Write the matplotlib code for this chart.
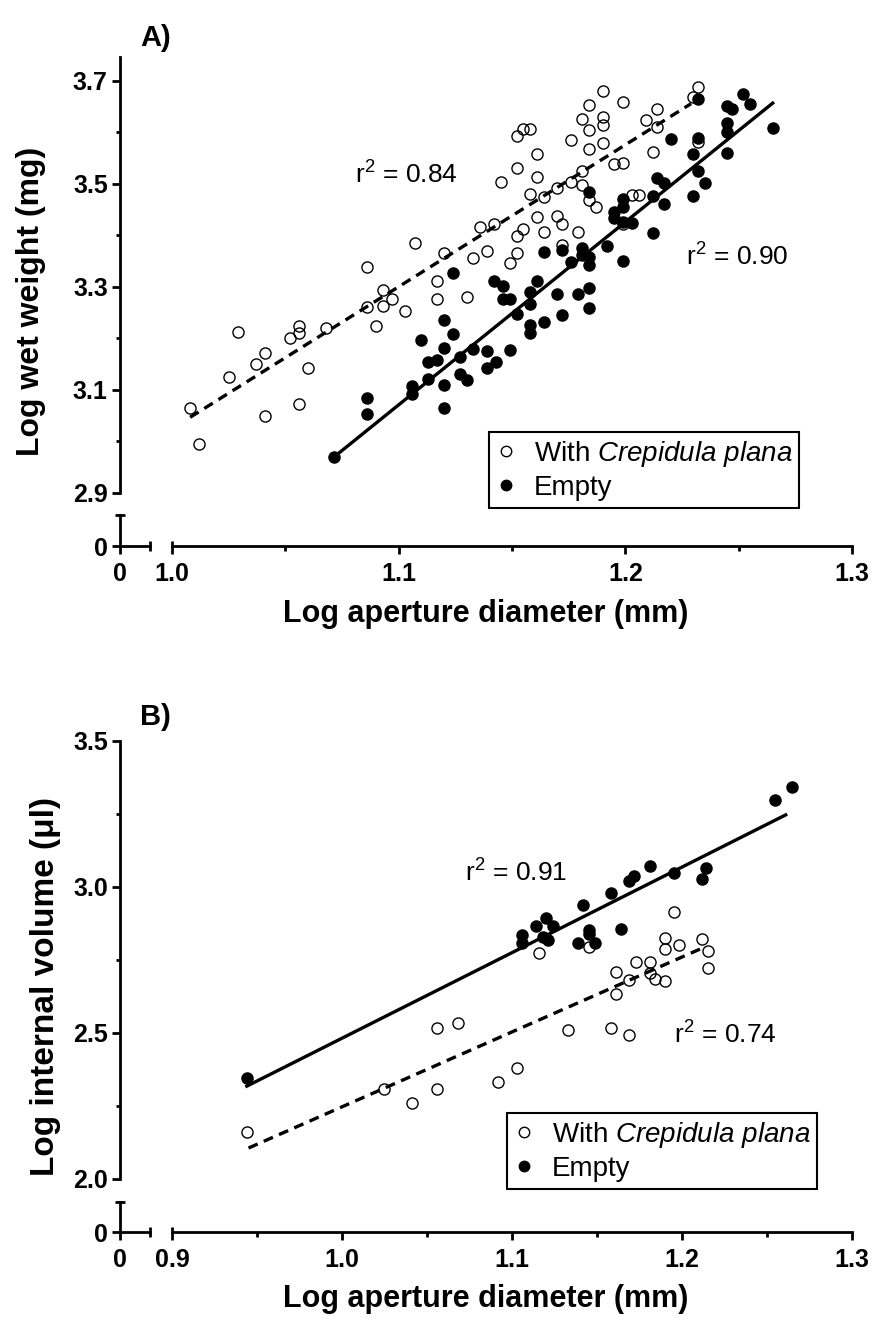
import numpy as np
import matplotlib
matplotlib.use('Agg')
import matplotlib.pyplot as plt
from matplotlib.lines import Line2D
from matplotlib.ticker import FixedLocator

plt.rcParams['font.family'] = ['Liberation Sans', 'DejaVu Sans']
plt.rcParams['mathtext.fontset'] = 'custom'
plt.rcParams['mathtext.rm'] = 'Liberation Sans'
plt.rcParams['mathtext.it'] = 'Liberation Sans:italic'
plt.rcParams['mathtext.bf'] = 'Liberation Sans:bold'

# ── Panel A data: log aperture diameter vs log wet weight ─────────────────────
a_open_x = [1.008, 1.012, 1.025, 1.029, 1.037, 1.041, 1.041, 1.052, 1.056, 1.056,
            1.060, 1.056, 1.068, 1.086, 1.090, 1.093, 1.093, 1.097, 1.086, 1.103,
            1.107, 1.117, 1.117, 1.120, 1.130, 1.133, 1.139, 1.136, 1.142, 1.145,
            1.149, 1.152, 1.152, 1.155, 1.164, 1.161, 1.170, 1.172, 1.179, 1.172,
            1.158, 1.164, 1.170, 1.176, 1.181, 1.181, 1.184, 1.187, 1.152, 1.161,
            1.152, 1.155, 1.158, 1.161, 1.176, 1.184, 1.190, 1.181, 1.190, 1.190,
            1.184, 1.184, 1.190, 1.199, 1.195, 1.199, 1.209, 1.214, 1.214, 1.212,
            1.203, 1.206, 1.199, 1.230, 1.232, 1.232]
a_open_y = [3.065, 2.995, 3.125, 3.213, 3.150, 3.172, 3.050, 3.201, 3.224, 3.211,
            3.143, 3.073, 3.220, 3.261, 3.224, 3.263, 3.294, 3.277, 3.339, 3.253,
            3.385, 3.312, 3.277, 3.366, 3.281, 3.356, 3.370, 3.417, 3.422, 3.504,
            3.347, 3.366, 3.399, 3.413, 3.407, 3.436, 3.438, 3.422, 3.407, 3.382,
            3.481, 3.475, 3.492, 3.504, 3.525, 3.498, 3.469, 3.455, 3.531, 3.514,
            3.593, 3.607, 3.607, 3.558, 3.585, 3.568, 3.580, 3.626, 3.630, 3.615,
            3.605, 3.653, 3.681, 3.659, 3.539, 3.541, 3.624, 3.646, 3.611, 3.562,
            3.479, 3.479, 3.422, 3.669, 3.688, 3.582]

a_fill_x = [1.0715, 1.086, 1.086, 1.106, 1.106, 1.110, 1.113, 1.117, 1.120, 1.120,
            1.120, 1.120, 1.124, 1.113, 1.127, 1.127, 1.130, 1.133, 1.139, 1.139,
            1.143, 1.149, 1.152, 1.158, 1.158, 1.158, 1.164, 1.172, 1.184, 1.124,
            1.142, 1.146, 1.146, 1.149, 1.161, 1.158, 1.170, 1.179, 1.184, 1.164,
            1.172, 1.176, 1.181, 1.181, 1.184, 1.184, 1.192, 1.199, 1.184, 1.199,
            1.199, 1.195, 1.195, 1.199, 1.203, 1.212, 1.212, 1.217, 1.230, 1.214,
            1.217, 1.220, 1.230, 1.232, 1.235, 1.232, 1.232, 1.245, 1.247, 1.252,
            1.255, 1.245, 1.245, 1.245, 1.265]
a_fill_y = [2.970, 3.084, 3.053, 3.108, 3.092, 3.197, 3.154, 3.158, 3.236, 3.182,
            3.110, 3.065, 3.209, 3.121, 3.164, 3.131, 3.119, 3.180, 3.176, 3.143,
            3.154, 3.178, 3.248, 3.267, 3.226, 3.211, 3.232, 3.246, 3.259, 3.327,
            3.312, 3.302, 3.277, 3.277, 3.312, 3.290, 3.286, 3.286, 3.298, 3.368,
            3.372, 3.349, 3.376, 3.362, 3.358, 3.343, 3.380, 3.350, 3.484, 3.471,
            3.455, 3.446, 3.434, 3.426, 3.424, 3.405, 3.477, 3.461, 3.477, 3.512,
            3.502, 3.587, 3.558, 3.525, 3.502, 3.589, 3.665, 3.651, 3.646, 3.675,
            3.655, 3.618, 3.601, 3.560, 3.609]

# regression lines as drawn (end points)
a_fit_open_x = [1.008, 1.229]
a_fit_open_y = [3.047, 3.656]
a_fit_fill_x = [1.0715, 1.265]
a_fit_fill_y = [2.970, 3.657]
a_r2 = ['0.84', '0.90']

# ── Panel B data: log aperture diameter vs log internal volume ────────────────
b_open_x = [0.944, 1.025, 1.041, 1.056, 1.056, 1.068, 1.092, 1.103, 1.133, 1.158,
            1.169, 1.116, 1.145, 1.161, 1.161, 1.169, 1.173, 1.181, 1.181, 1.184,
            1.190, 1.190, 1.190, 1.195, 1.198, 1.212, 1.215, 1.215]
b_open_y = [2.161, 2.308, 2.260, 2.308, 2.517, 2.534, 2.332, 2.380, 2.510, 2.517,
            2.493, 2.774, 2.795, 2.709, 2.634, 2.682, 2.743, 2.743, 2.705, 2.685,
            2.678, 2.825, 2.788, 2.914, 2.801, 2.822, 2.781, 2.723]

b_fill_x = [0.944, 1.106, 1.106, 1.114, 1.120, 1.124, 1.118, 1.121, 1.139, 1.142,
            1.145, 1.145, 1.149, 1.158, 1.164, 1.169, 1.172, 1.181, 1.195, 1.212,
            1.214, 1.255, 1.265]
b_fill_y = [2.346, 2.836, 2.808, 2.866, 2.894, 2.866, 2.829, 2.818, 2.808, 2.938,
            2.853, 2.839, 2.808, 2.979, 2.856, 3.021, 3.038, 3.072, 3.048, 3.027,
            3.065, 3.298, 3.342]

b_fit_open_x = [0.945, 1.212]
b_fit_open_y = [2.106, 2.791]
b_fit_fill_x = [0.944, 1.261]
b_fit_fill_y = [2.318, 3.247]
b_r2 = ['0.74', '0.91']

LEG_LABELS = ['With $\\mathit{Crepidula\\ plana}$', 'Empty']
XLABEL = 'Log aperture diameter (mm)'

# ── Layout (pixels) ──────────────────────────────────────────────────────────
W, H = 876, 1322
DPI = 100
PT = 72 / DPI
fig = plt.figure(figsize=(W / DPI, H / DPI), dpi=DPI)


def box(x0, x1, y0, y1):
    return [x0 / W, 1 - y1 / H, (x1 - x0) / W, (y1 - y0) / H]


SPINE_X = 120
X0, X1 = 172, 852
LW_AX = 2.0
TICK_FS = 18
TLEN = 8 * PT
TLEN_MIN = 4.5 * PT
YPAD = 3
XPAD = 6


def style(ax, axis):
    ax.tick_params(axis=axis, which='major', length=TLEN, width=LW_AX,
                   direction='out', labelsize=TICK_FS)
    ax.tick_params(axis=axis, which='minor', length=TLEN_MIN, width=LW_AX,
                   direction='out')


def bold(labels):
    for t in labels:
        t.set_fontweight('bold')


def panel(tag, tag_y, ytop, ybot, ycap, yzero, ylim, ymaj, ymin, xlim, xmaj, xmin,
          ylabel, ylab_x, ylab_fs, xlab_y, ox, oy, fx, fy, fo, ff,
          r2o, r2f, r2o_xy, r2f_xy, leg_xy):
    # main data area
    ax = fig.add_axes(box(X0, X1, ytop, ybot))
    ax.set_xlim(*xlim)
    ax.set_ylim(*ylim)
    for s in ['top', 'right', 'bottom']:
        ax.spines[s].set_visible(False)
    ax.spines['left'].set_position(('outward', (X0 - SPINE_X) * PT))
    ax.spines['left'].set_linewidth(LW_AX)
    ax.tick_params(axis='x', bottom=False, labelbottom=False)
    ax.yaxis.set_major_locator(FixedLocator(ymaj))
    ax.yaxis.set_minor_locator(FixedLocator(ymin))
    ax.set_yticklabels([f'{v:.1f}' for v in ymaj])
    style(ax, 'y')
    ax.tick_params(axis='y', pad=YPAD)
    bold(ax.get_yticklabels())
    ax.patch.set_alpha(0)

    ax.plot(fo[0], fo[1], color='black', lw=2.4, ls=(0, (3.0, 2.0)),
            solid_capstyle='butt', zorder=2)
    ax.plot(ff[0], ff[1], color='black', lw=2.4, zorder=2)
    ax.plot(ox, oy, 'o', ls='none', mfc='none', mec='black', ms=8, mew=1.0,
            clip_on=False, zorder=3)
    ax.plot(fx, fy, 'o', ls='none', mfc='black', mec='black', ms=8, mew=1.0,
            clip_on=False, zorder=4)

    ax.text(r2o_xy[0], r2o_xy[1], f'r$^2$ = {r2o}', fontsize=19, va='center', ha='left')
    ax.text(r2f_xy[0], r2f_xy[1], f'r$^2$ = {r2f}', fontsize=19, va='center', ha='left')

    handles = [Line2D([], [], marker='o', ls='none', mfc='none', mec='black', ms=7.5, mew=1.0),
               Line2D([], [], marker='o', ls='none', mfc='black', mec='black', ms=7.5, mew=1.0)]
    leg = ax.legend(handles, LEG_LABELS, loc='upper left', bbox_to_anchor=leg_xy,
                    bbox_transform=fig.transFigure, fontsize=20, frameon=True,
                    fancybox=False, framealpha=1, edgecolor='black',
                    handlelength=0.7, handletextpad=0.66, borderpad=0.25,
                    labelspacing=0.22, borderaxespad=0)
    leg.get_frame().set_linewidth(1.5)

    # main x segment
    axx = fig.add_axes(box(X0, X1, yzero - 1, yzero))
    axx.set_xlim(*xlim)
    for s in ['top', 'right', 'left']:
        axx.spines[s].set_visible(False)
    axx.spines['bottom'].set_linewidth(LW_AX)
    axx.tick_params(axis='y', left=False, labelleft=False)
    axx.xaxis.set_major_locator(FixedLocator(xmaj))
    axx.xaxis.set_minor_locator(FixedLocator(xmin))
    axx.set_xticklabels([f'{v:.1f}' for v in xmaj])
    style(axx, 'x')
    axx.tick_params(axis='x', pad=XPAD)
    bold(axx.get_xticklabels())
    axx.patch.set_alpha(0)
    # upward half of the start cap of the segment
    cap = axx.secondary_xaxis('top')
    cap.set_xticks([xlim[0]])
    cap.tick_params(length=4.5 * PT, width=LW_AX, direction='out', labeltop=False)
    cap.spines['top'].set_visible(False)

    # broken-off zero segment, with end caps as minor ticks
    ax0 = fig.add_axes(box(SPINE_X, 150, ycap, yzero))
    ax0.set_xlim(0, 1)
    ax0.set_ylim(0, 1)
    for s in ['top', 'right']:
        ax0.spines[s].set_visible(False)
    for s in ['left', 'bottom']:
        ax0.spines[s].set_linewidth(LW_AX)
    ax0.xaxis.set_major_locator(FixedLocator([0]))
    ax0.yaxis.set_major_locator(FixedLocator([0]))
    ax0.xaxis.set_minor_locator(FixedLocator([1]))
    ax0.yaxis.set_minor_locator(FixedLocator([1]))
    ax0.set_xticklabels(['0'])
    ax0.set_yticklabels(['0'])
    ax0.tick_params(which='major', length=TLEN, width=LW_AX, direction='out',
                    labelsize=TICK_FS)
    ax0.tick_params(which='minor', length=TLEN * 1.2, width=LW_AX, direction='inout')
    ax0.tick_params(axis='x', pad=XPAD)
    ax0.tick_params(axis='y', pad=YPAD)
    bold(ax0.get_xticklabels())
    bold(ax0.get_yticklabels())
    ax0.patch.set_alpha(0)

    fig.text(140 / W, 1 - tag_y / H, tag, fontsize=21, fontweight='bold',
             ha='left', va='center')
    fig.text(ylab_x / W, 1 - (ytop + yzero) / 2 / H, ylabel, rotation=90,
             fontsize=ylab_fs, fontweight='bold', ha='center', va='center')
    fig.text((SPINE_X + X1) / 2 / W, 1 - xlab_y / H, XLABEL,
             fontsize=22, fontweight='bold', ha='center', va='center')


panel('A)', 38, 57, 493, 515, 546, (2.9, 3.7466), [2.9, 3.1, 3.3, 3.5, 3.7],
      [3.0, 3.2, 3.4, 3.6], (1.0, 1.3), [1.0, 1.1, 1.2, 1.3], [1.05, 1.15, 1.25],
      'Log wet weight (mg)', 31, 23, 614,
      a_open_x, a_open_y, a_fill_x, a_fill_y,
      (a_fit_open_x, a_fit_open_y), (a_fit_fill_x, a_fit_fill_y),
      a_r2[0], a_r2[1], (1.0807, 3.517), (1.2267, 3.358),
      (489 / W, 1 - 432 / H))

panel('B)', 717, 741, 1179, 1202, 1232, (2.0, 3.5), [2.0, 2.5, 3.0, 3.5],
      [2.25, 2.75, 3.25], (0.9, 1.3), [0.9, 1.0, 1.1, 1.2, 1.3],
      [0.95, 1.05, 1.15, 1.25],
      'Log internal volume (\u03bcl)', 46, 24, 1299,
      b_open_x, b_open_y, b_fill_x, b_fill_y,
      (b_fit_open_x, b_fit_open_y), (b_fit_fill_x, b_fit_fill_y),
      b_r2[0], b_r2[1], (1.1953, 2.493), (1.0724, 3.048),
      (507 / W, 1 - 1113 / H))

fig.savefig('out.png', dpi=DPI)
